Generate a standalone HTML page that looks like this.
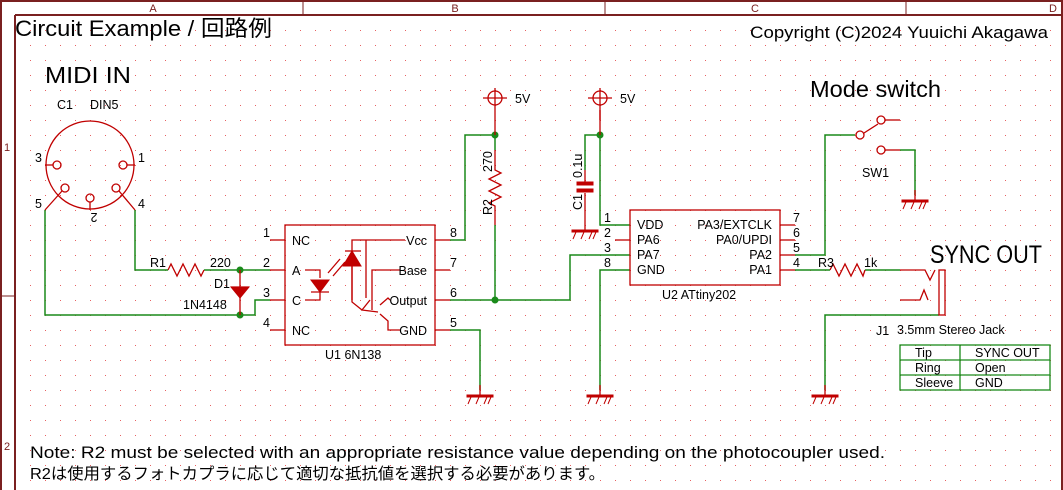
<!DOCTYPE html>
<html><head><meta charset="utf-8"><style>
html,body{margin:0;padding:0;background:#fff;}
svg{display:block;font-family:"Liberation Sans","Noto Sans CJK JP",sans-serif;}
</style></head><body>
<svg width="1063" height="490" viewBox="0 0 1063 490" xmlns="http://www.w3.org/2000/svg">
<defs>
<pattern id="g" x="0" y="0" width="15" height="15" patternUnits="userSpaceOnUse">
<rect x="0" y="0" width="1" height="1" fill="#e86060"/>
</pattern>
</defs>
<rect x="15" y="15" width="1048" height="475" fill="url(#g)"/>
<g fill="none" stroke="#7a2020" stroke-width="2">
<rect x="1" y="1" width="1061" height="490"/>
<line x1="15" y1="15" x2="1063" y2="15"/>
<line x1="15" y1="15" x2="15" y2="490"/>
</g>
<g stroke="#7a2020" stroke-width="1">
<line x1="303" y1="0" x2="303" y2="15"/><line x1="605" y1="0" x2="605" y2="15"/><line x1="906" y1="0" x2="906" y2="15"/>
<line x1="0" y1="296" x2="15" y2="296"/>
</g>
<g fill="#7a2020" font-size="11" text-anchor="middle">
<text x="153" y="12">A</text><text x="455" y="12">B</text><text x="755" y="12">C</text><text x="1053" y="12">D</text>
<text x="7" y="151">1</text><text x="7" y="450">2</text>
</g>
<g fill="#000">
<text x="15" y="36" font-size="22" textLength="257" lengthAdjust="spacingAndGlyphs">Circuit Example / 回路例</text>
<text x="750" y="38" font-size="17" textLength="298" lengthAdjust="spacingAndGlyphs">Copyright (C)2024 Yuuichi Akagawa</text>
<text x="45" y="83" font-size="23" textLength="86" lengthAdjust="spacingAndGlyphs">MIDI IN</text>
<text x="810" y="97" font-size="23" textLength="131" lengthAdjust="spacingAndGlyphs">Mode switch</text>
<text x="930" y="263" font-size="25" textLength="112" lengthAdjust="spacingAndGlyphs">SYNC OUT</text>
<text x="30" y="458" font-size="17" textLength="855" lengthAdjust="spacingAndGlyphs">Note: R2 must be selected with an appropriate resistance value depending on the photocoupler used.</text>
<text x="30" y="479" font-size="16" textLength="575" lengthAdjust="spacingAndGlyphs">R2は使用するフォトカプラに応じて適切な抵抗値を選択する必要があります。</text>
</g>
<g fill="none" stroke="#1a8a1a" stroke-width="1.5">
<polyline points="45,210 45,315 255,315 255,300 270,300"/>
<polyline points="135,210 135,270 168,270"/>
<polyline points="204,270 270,270"/>
<polyline points="450,240 465,240 465,135 495,135 495,150"/>
<line x1="495" y1="225" x2="495" y2="300"/>
<polyline points="450,300 570,300 570,255 630,255"/>
<polyline points="450,330 480,330 480,390"/>
<polyline points="585,170 585,135 600,135 600,225 630,225"/>
<polyline points="630,270 600,270 600,390"/>
<polyline points="795,255 825,255 825,135 855,135"/>
<polyline points="900,150 915,150 915,195"/>
<polyline points="795,270 830,270"/>
<polyline points="865,270 900,270"/>
<polyline points="825,390 825,315 939,315"/>
</g>
<g fill="#1a8a1a">
<circle cx="240" cy="270" r="3.5"/><circle cx="240" cy="315" r="3.5"/>
<circle cx="495" cy="135" r="3.5"/><circle cx="495" cy="300" r="3.5"/>
<circle cx="600" cy="135" r="3.5"/>
</g>
<g fill="none" stroke="#c00000" stroke-width="1.3">
<circle cx="90" cy="165" r="44"/>
<circle cx="57" cy="165" r="4"/><line x1="45" y1="165" x2="53" y2="165"/>
<circle cx="123" cy="165" r="4"/><line x1="127" y1="165" x2="135" y2="165"/>
<circle cx="65" cy="188" r="4"/><line x1="45" y1="210" x2="62" y2="191"/>
<circle cx="116" cy="188" r="4"/><line x1="135" y1="210" x2="119" y2="191"/>
<circle cx="90" cy="198" r="4"/><line x1="90" y1="202" x2="90" y2="210"/>
<polyline points="168,270 171,264 177,276 183,264 189,276 195,264 201,276 204,270"/>
<line x1="240" y1="270" x2="240" y2="315"/><line x1="231" y1="287" x2="249" y2="287"/>
<rect x="285" y="225" width="150" height="120"/>
<line x1="270" y1="240" x2="285" y2="240"/><line x1="270" y1="270" x2="285" y2="270"/>
<line x1="270" y1="300" x2="285" y2="300"/><line x1="270" y1="330" x2="285" y2="330"/>
<line x1="435" y1="240" x2="450" y2="240"/><line x1="435" y1="270" x2="450" y2="270"/>
<line x1="435" y1="300" x2="450" y2="300"/><line x1="435" y1="330" x2="450" y2="330"/>
<polyline points="305,270 320,270 320,278"/><polyline points="305,300 320,300 320,292"/>
<line x1="311" y1="292" x2="329" y2="292"/>
<line x1="328" y1="273" x2="340" y2="259"/><line x1="333" y1="276" x2="345" y2="262"/>
<polyline points="405,240 352,240 352,300"/>
<line x1="345" y1="251" x2="361" y2="251"/>
<polyline points="366,240 366,298"/>
<polyline points="352,255 352,302 362,310"/>
<polyline points="400,270 372,270 372,310"/>
<polyline points="370,300 362,310 378,312"/>
<polyline points="380,305 388,298 390,300"/>
<polyline points="380,314 388,321 388,330 400,330"/>
<line x1="495" y1="110" x2="495" y2="135"/>
<polyline points="495,150 495,170 501,173 489,179 501,185 489,191 501,197 489,203 495,206 495,225"/>
<circle cx="495" cy="98" r="7"/><line x1="483" y1="98" x2="507" y2="98"/><line x1="495" y1="88" x2="495" y2="110"/>
<circle cx="600" cy="98" r="7"/><line x1="588" y1="98" x2="612" y2="98"/><line x1="600" y1="88" x2="600" y2="120"/>
<line x1="600" y1="110" x2="600" y2="135"/>
<line x1="585" y1="170" x2="585" y2="183"/><line x1="585" y1="193" x2="585" y2="230"/>
<rect x="630" y="210" width="150" height="75"/>
<line x1="615" y1="240" x2="630" y2="240"/>
<line x1="780" y1="225" x2="795" y2="225"/><line x1="780" y1="240" x2="795" y2="240"/>
<line x1="780" y1="255" x2="795" y2="255"/><line x1="780" y1="270" x2="795" y2="270"/>
<polyline points="830,270 833,264 839,276 845,264 851,276 857,264 863,276 865,270"/>
<circle cx="860" cy="135" r="4"/><circle cx="881" cy="120" r="4"/><circle cx="881" cy="150" r="4"/>
<line x1="864" y1="133" x2="878" y2="124"/><line x1="885" y1="120" x2="900" y2="120"/>
<line x1="885" y1="150" x2="900" y2="150"/>
<rect x="939" y="270" width="6" height="45"/>
<polyline points="900,270 925,270 930,280 935,270"/>
<polyline points="900,300 920,300 924,290 928,300"/>
<line x1="480" y1="385" x2="480" y2="395"/><line x1="600" y1="385" x2="600" y2="395"/>
<line x1="825" y1="385" x2="825" y2="395"/><line x1="915" y1="190" x2="915" y2="200"/>
</g>
<g fill="#c00000" stroke="#c00000">
<polygon points="231,287 249,287 240,298"/>
<polygon points="311,280 329,280 320,292"/>
<polygon points="343,266 361,266 352,251"/>
<rect x="577" y="182" width="16" height="3"/><rect x="577" y="189" width="16" height="3"/>
<rect x="467" y="395" width="26" height="2"/><rect x="587" y="395" width="26" height="2"/>
<rect x="812" y="395" width="26" height="2"/><rect x="902" y="200" width="26" height="2"/>
<rect x="572" y="230" width="26" height="2"/>
</g>
<g stroke="#c00000" stroke-width="1">
<path d="M471,397 l-3,7 M479,397 l-3,7 M487,397 l-3,7 M491,397 l-3,7"/>
<path d="M591,397 l-3,7 M599,397 l-3,7 M607,397 l-3,7 M611,397 l-3,7"/>
<path d="M816,397 l-3,7 M824,397 l-3,7 M832,397 l-3,7 M836,397 l-3,7"/>
<path d="M906,202 l-3,7 M914,202 l-3,7 M922,202 l-3,7 M926,202 l-3,7"/>
<path d="M576,232 l-3,7 M584,232 l-3,7 M592,232 l-3,7 M596,232 l-3,7"/>
</g>
<g fill="none" stroke="#1a8a1a" stroke-width="1.3">
<rect x="900" y="345" width="150" height="45"/>
<line x1="900" y1="360" x2="1050" y2="360"/><line x1="900" y1="375" x2="1050" y2="375"/>
<line x1="960" y1="345" x2="960" y2="390"/>
</g>
<g fill="#000" font-size="12.5">
<text x="57" y="109">C1</text><text x="90" y="109">DIN5</text>
<text x="35" y="162">3</text><text x="138" y="162">1</text>
<text x="35" y="208">5</text><text x="138" y="208">4</text>
<text x="150" y="267">R1</text><text x="210" y="267">220</text>
<text x="214" y="288">D1</text><text x="183" y="309">1N4148</text>
<text x="263" y="237">1</text><text x="263" y="267">2</text><text x="263" y="297">3</text><text x="263" y="327">4</text>
<text x="292" y="245">NC</text><text x="292" y="275">A</text><text x="292" y="305">C</text><text x="292" y="335">NC</text>
<text x="427" y="245" text-anchor="end">Vcc</text><text x="427" y="275" text-anchor="end">Base</text>
<text x="427" y="305" text-anchor="end">Output</text><text x="427" y="335" text-anchor="end">GND</text>
<text x="450" y="237">8</text><text x="450" y="267">7</text><text x="450" y="297">6</text><text x="450" y="327">5</text>
<text x="325" y="359">U1  6N138</text>
<text x="515" y="103">5V</text><text x="620" y="103">5V</text>
<text x="604" y="222">1</text><text x="604" y="237">2</text><text x="604" y="252">3</text><text x="604" y="267">8</text>
<text x="637" y="229">VDD</text><text x="637" y="244">PA6</text><text x="637" y="259">PA7</text><text x="637" y="274">GND</text>
<text x="772" y="229" text-anchor="end">PA3/EXTCLK</text><text x="772" y="244" text-anchor="end">PA0/UPDI</text>
<text x="772" y="259" text-anchor="end">PA2</text><text x="772" y="274" text-anchor="end">PA1</text>
<text x="793" y="222">7</text><text x="793" y="237">6</text><text x="793" y="252">5</text><text x="793" y="267">4</text>
<text x="662" y="299">U2    ATtiny202</text>
<text x="818" y="267">R3</text><text x="864" y="267">1k</text>
<text x="862" y="177">SW1</text>
<text x="876" y="335">J1</text><text x="897" y="334">3.5mm Stereo Jack</text>
<text x="915" y="357">Tip</text><text x="975" y="357">SYNC OUT</text>
<text x="915" y="372">Ring</text><text x="975" y="372">Open</text>
<text x="915" y="387">Sleeve</text><text x="975" y="387">GND</text>
<text transform="translate(94,213) rotate(180)" text-anchor="middle">2</text>
<text transform="translate(492,215) rotate(-90)">R2</text>
<text transform="translate(492,172) rotate(-90)">270</text>
<text transform="translate(582,210) rotate(-90)">C1</text>
<text transform="translate(582,178) rotate(-90)">0.1u</text>
</g>
</svg>
</body></html>
